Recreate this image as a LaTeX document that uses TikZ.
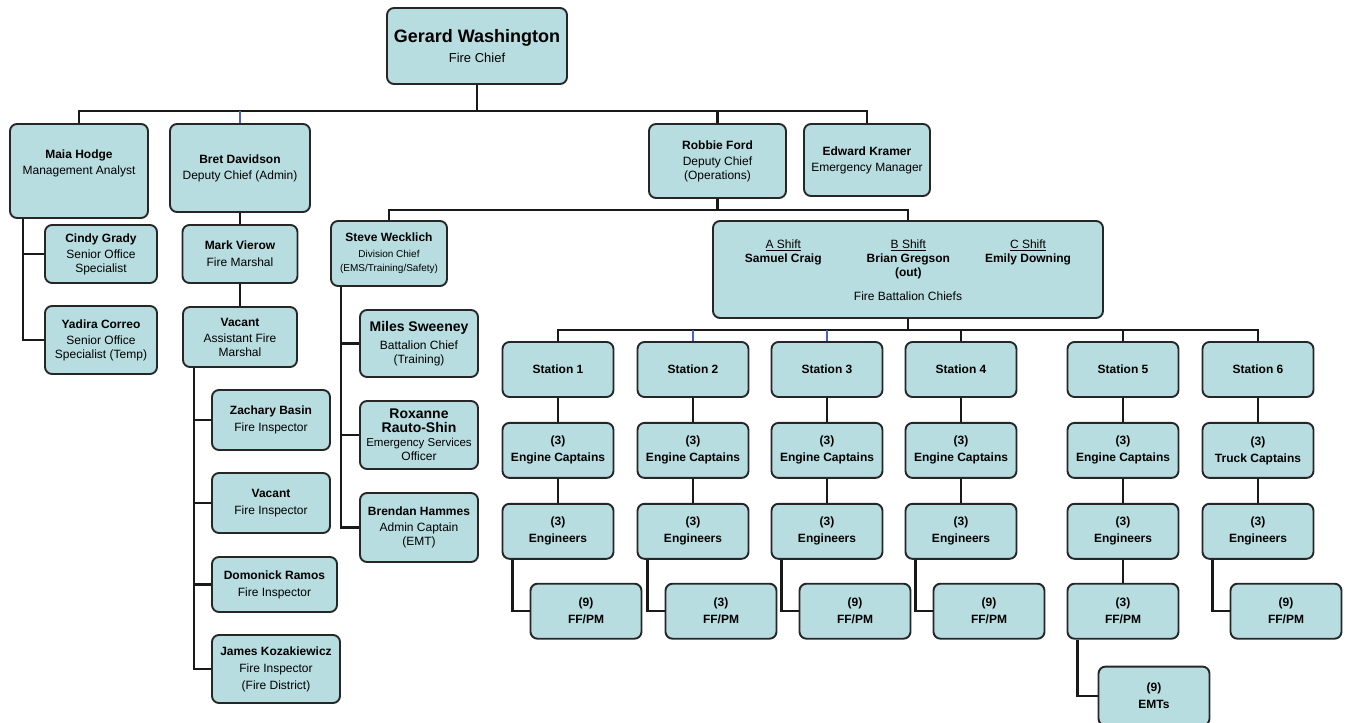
\documentclass[tikz,border=0pt]{standalone}
\usepackage{fontspec}
\setmainfont{Liberation Sans}
\usepackage{tikz}
\usetikzlibrary{positioning}
\definecolor{boxfill}{RGB}{183,221,224}
\definecolor{linkblue}{RGB}{70,100,200}

\begin{document}
\begin{tikzpicture}[x=1pt,y=-1pt,
    box/.style={draw=black!85, line width=1.9pt, fill=boxfill, rounded corners=7pt,
                align=center, inner sep=2pt, font=\fontsize{12}{14}\selectfont},
    stn/.style={box, minimum width=111pt, minimum height=55pt, font=\fontsize{12}{14}\selectfont\bfseries},
    link/.style={line width=2.2pt, black!90}]
    \useasboundingbox (0,0) rectangle (1345,723);

    % chief and the top row
    \node[box, minimum width=180pt, minimum height=76pt] (chief) at (477,46)
        {{\fontsize{18}{20}\selectfont\bfseries Gerard Washington}\\[6pt]{\fontsize{13}{15}\selectfont Fire Chief}};
    \node[box, minimum width=138pt, minimum height=94pt] (maia)   at (79,171)    {\textbf{Maia Hodge}\\[2pt] Management Analyst\\[4pt]\mbox{}};
    \node[box, minimum width=140pt, minimum height=88pt] (bret)   at (240,168)   {\textbf{Bret Davidson}\\[2pt] Deputy Chief (Admin)};
    \node[box, minimum width=137pt, minimum height=74pt] (robbie) at (717.5,161) {\textbf{Robbie Ford}\\[2pt] Deputy Chief\\ (Operations)};
    \node[box, minimum width=126pt, minimum height=72pt] (edward) at (867,160)   {\textbf{Edward Kramer}\\[2pt] Emergency Manager};

    % admin side
    \node[box, minimum width=112pt, minimum height=58pt] (cindy)    at (101,254)   {\textbf{Cindy Grady}\\[2pt] Senior Office\\ Specialist};
    \node[box, minimum width=112pt, minimum height=68pt] (yadira)   at (101,340)   {\textbf{Yadira Correo}\\[2pt] Senior Office\\ Specialist (Temp)};
    \node[box, minimum width=115pt, minimum height=58pt] (mark)     at (240,254)   {\textbf{Mark Vierow}\\[3pt] Fire Marshal};
    \node[box, minimum width=114pt, minimum height=60pt] (asstfm)   at (240,337)   {\textbf{Vacant}\\[2pt] Assistant Fire\\ Marshal};
    \node[box, minimum width=118pt, minimum height=60pt] (zachary)  at (271,420)   {\textbf{Zachary Basin}\\[3pt] Fire Inspector};
    \node[box, minimum width=118pt, minimum height=60pt] (vacfi)    at (271,503)   {\textbf{Vacant}\\[3pt] Fire Inspector};
    \node[box, minimum width=125pt, minimum height=55pt] (domonick) at (274.5,584.5) {\textbf{Domonick Ramos}\\[3pt] Fire Inspector};
    \node[box, minimum width=128pt, minimum height=68pt] (james)    at (276,669)   {\textbf{James Kozakiewicz}\\[3pt] Fire Inspector\\[3pt] (Fire District)};

    % operations side
    \node[box, minimum width=116pt, minimum height=65pt] (steve)   at (389,253.5)
        {\textbf{Steve Wecklich}\\[2pt]{\fontsize{10}{12}\selectfont Division Chief}\\{\fontsize{10}{12}\selectfont (EMS/Training/Safety)}};
    \node[box, minimum width=118pt, minimum height=67pt] (miles)   at (419,343.5)
        {{\fontsize{14}{16}\selectfont\bfseries Miles Sweeney}\\[4pt] Battalion Chief\\ (Training)};
    \node[box, minimum width=118pt, minimum height=68pt] (roxanne) at (419,435)
        {{\fontsize{14}{16}\selectfont\bfseries Roxanne}\\{\fontsize{14}{16}\selectfont\bfseries Rauto-Shin}\\{\fontsize{11.5}{13}\selectfont Emergency Services}\\ Officer};
    \node[box, minimum width=118pt, minimum height=69pt] (brendan) at (419,527.5)
        {\textbf{Brendan Hammes}\\[2pt] Admin Captain\\ (EMT)};
    \node[box, minimum width=390pt, minimum height=97pt] (shifts)  at (908,269.5)
        {\begin{tabular}{@{}c@{\hspace{45pt}}c@{\hspace{35pt}}c@{}}
           \underline{A Shift} & \underline{B Shift} & \underline{C Shift}\\
           \textbf{Samuel Craig} & \textbf{Brian Gregson} & \textbf{Emily Downing}\\
           & \textbf{(out)} &
         \end{tabular}\\[10pt] Fire Battalion Chiefs};

    % stations
    \node[stn] (st1) at (558,369.5)  {Station 1};
    \node[stn] (st2) at (693,369.5)  {Station 2};
    \node[stn] (st3) at (827,369.5)  {Station 3};
    \node[stn] (st4) at (961,369.5)  {Station 4};
    \node[stn] (st5) at (1123,369.5) {Station 5};
    \node[stn] (st6) at (1258,369.5) {Station 6};

    \node[stn] (cap1) [below=24pt of st1] {(3)\\[3pt] Engine Captains};
    \node[stn] (cap2) [below=24pt of st2] {(3)\\[3pt] Engine Captains};
    \node[stn] (cap3) [below=24pt of st3] {(3)\\[3pt] Engine Captains};
    \node[stn] (cap4) [below=24pt of st4] {(3)\\[3pt] Engine Captains};
    \node[stn] (cap5) [below=24pt of st5] {(3)\\[3pt] Engine Captains};
    \node[stn] (cap6) [below=24pt of st6] {(3)\\[3pt] Truck Captains};

    \node[stn] (eng1) [below=24pt of cap1] {(3)\\[3pt] Engineers};
    \node[stn] (eng2) [below=24pt of cap2] {(3)\\[3pt] Engineers};
    \node[stn] (eng3) [below=24pt of cap3] {(3)\\[3pt] Engineers};
    \node[stn] (eng4) [below=24pt of cap4] {(3)\\[3pt] Engineers};
    \node[stn] (eng5) [below=24pt of cap5] {(3)\\[3pt] Engineers};
    \node[stn] (eng6) [below=24pt of cap6] {(3)\\[3pt] Engineers};

    \node[stn] (ff1) [below=23pt of eng1, xshift=28pt] {(9)\\[3pt] FF/PM};
    \node[stn] (ff2) [below=23pt of eng2, xshift=28pt] {(3)\\[3pt] FF/PM};
    \node[stn] (ff3) [below=23pt of eng3, xshift=28pt] {(9)\\[3pt] FF/PM};
    \node[stn] (ff4) [below=23pt of eng4, xshift=28pt] {(9)\\[3pt] FF/PM};
    \node[stn] (ff5) [below=23pt of eng5]              {(3)\\[3pt] FF/PM};
    \node[stn] (ff6) [below=23pt of eng6, xshift=28pt] {(9)\\[3pt] FF/PM};
    \node[stn, minimum height=59pt] (emts) [below=26pt of ff5, xshift=31pt] {(9)\\[3pt] EMTs};

    % connectors
    \coordinate (top)    at (477,111);
    \coordinate (ops)    at (717.5,210);
    \coordinate (stbus)  at (908,330);
    \coordinate (mtrunk) at ([xshift=14pt]maia.south west);
    \coordinate (atrunk) at ([xshift=12pt]asstfm.south west);
    \coordinate (strunk) at ([xshift=11pt]steve.south west);

    \draw[link] (chief.south) -- (top);
    \draw[link] (maia.north) -- (maia.north |- top) -- (edward.north |- top) -- (edward.north);
    \draw[link, linkblue] (bret.north) -- (bret.north |- top);
    \draw[link] (robbie.north) -- (robbie.north |- top);

    \draw[link] (mtrunk) |- (yadira.west);
    \draw[link] (mtrunk |- cindy.west) -- (cindy.west);
    \draw[link] (bret.south) -- (mark.north) (mark.south) -- (asstfm.north);
    \draw[link] (atrunk) |- (james.west);
    \draw[link] (atrunk |- zachary.west) -- (zachary.west);
    \draw[link] (atrunk |- vacfi.west) -- (vacfi.west);
    \draw[link] (atrunk |- domonick.west) -- (domonick.west);

    \draw[link] (robbie.south) -- (ops);
    \draw[link] (steve.north) -- (steve.north |- ops) -- (shifts.north |- ops) -- (shifts.north);
    \draw[link] (strunk) |- (brendan.west);
    \draw[link] (strunk |- miles.west) -- (miles.west);
    \draw[link] (strunk |- roxanne.west) -- (roxanne.west);

    \draw[link] (shifts.south) -- (stbus);
    \draw[link] (st1.north) -- (st1.north |- stbus) -- (st6.north |- stbus) -- (st6.north);
    \draw[link, linkblue] (st2.north) -- (st2.north |- stbus);
    \draw[link, linkblue] (st3.north) -- (st3.north |- stbus);
    \draw[link] (st4.north) -- (st4.north |- stbus);
    \draw[link] (st5.north) -- (st5.north |- stbus);

    \draw[link] (st1.south) -- (cap1.north) (cap1.south) -- (eng1.north);
    \draw[link] (st2.south) -- (cap2.north) (cap2.south) -- (eng2.north);
    \draw[link] (st3.south) -- (cap3.north) (cap3.south) -- (eng3.north);
    \draw[link] (st4.south) -- (cap4.north) (cap4.south) -- (eng4.north);
    \draw[link] (st5.south) -- (cap5.north) (cap5.south) -- (eng5.north);
    \draw[link] (st6.south) -- (cap6.north) (cap6.south) -- (eng6.north);

    \draw[link] ([xshift=11pt]eng1.south west) |- (ff1.west);
    \draw[link] ([xshift=11pt]eng2.south west) |- (ff2.west);
    \draw[link] ([xshift=11pt]eng3.south west) |- (ff3.west);
    \draw[link] ([xshift=11pt]eng4.south west) |- (ff4.west);
    \draw[link] (eng5.south) -- (ff5.north);
    \draw[link] ([xshift=11pt]ff5.south west) |- (emts.west);
    \draw[link] ([xshift=11pt]eng6.south west) |- (ff6.west);
\end{tikzpicture}
\end{document}
